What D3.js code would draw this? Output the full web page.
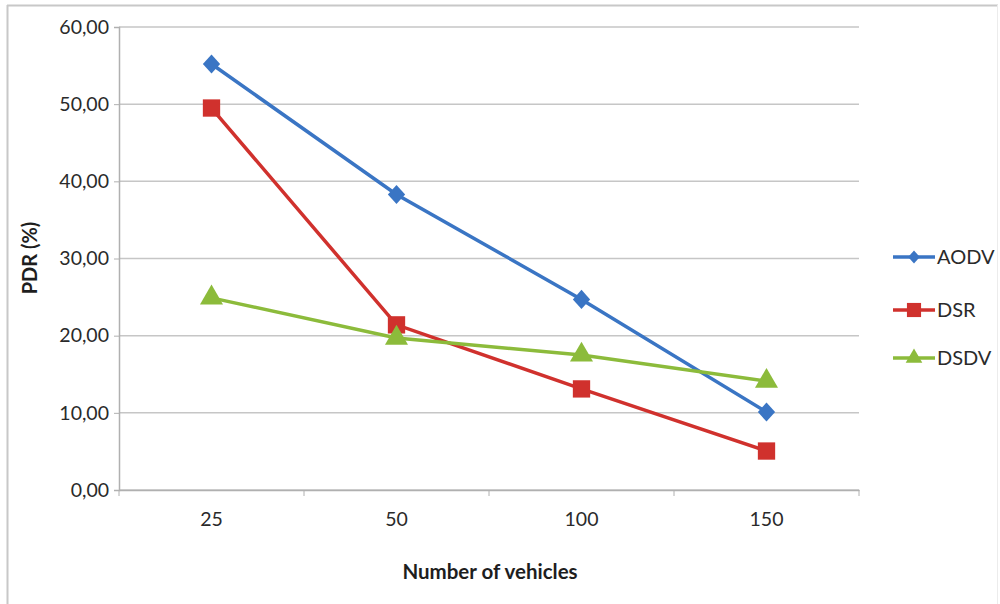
<!DOCTYPE html>
<html><head><meta charset="utf-8">
<script src="https://cdn.jsdelivr.net/npm/d3@7"></script>
<style>body{margin:0;background:#fff;}svg{display:block;}</style>
</head><body>
<svg id="c" width="1000" height="604"></svg>
<script>
const categories = ["25","50","100","150"];
const aodv = [55.2, 38.3, 24.7, 10.1];
const dsr  = [49.5, 21.4, 13.1, 5.05];
const dsdv = [24.9, 19.7, 17.5, 14.1];
const yTicks = [0,10,20,30,40,50,60];
const seriesNames = ["AODV","DSR","DSDV"];
const seriesColors = ["#3a75c4","#d0312d","#8cbb3b"];

const diamond = { draw(ctx, size){ const s=Math.sqrt(size)/2; ctx.moveTo(0,-s*1.05); ctx.lineTo(s*0.95,0); ctx.lineTo(0,s*1.05); ctx.lineTo(-s*0.95,0); ctx.closePath(); } };
const seriesShapes = [diamond, d3.symbolSquare, d3.symbolTriangle];

const svg = d3.select("#c");
const font = "Lato, 'Open Sans', sans-serif";
// frame
svg.append("line").attr("x1",7.5).attr("x2",7.5).attr("y1",5).attr("y2",604).attr("stroke","#c8c8c8").attr("stroke-width",2);
svg.append("line").attr("x1",7).attr("x2",998).attr("y1",5.5).attr("y2",5.5).attr("stroke","#c8c8c8").attr("stroke-width",2);
svg.append("line").attr("x1",997.5).attr("x2",997.5).attr("y1",5).attr("y2",604).attr("stroke","#ececec").attr("stroke-width",1);

const L=119, R=859, T=27, B=490;
const x = d3.scaleBand().domain(categories).range([L,R]);
const y = d3.scaleLinear().domain([0,60]).range([B,T]);

// gridlines
svg.append("g").selectAll("line").data(yTicks).join("line")
  .attr("x1",L).attr("x2",R).attr("y1",d=>y(d)).attr("y2",d=>y(d))
  .attr("stroke","#c6c6c6").attr("stroke-width",1.5);

// y axis
const ya = svg.append("g").attr("transform",`translate(${L},0)`)
  .call(d3.axisLeft(y).tickValues(yTicks).tickSize(5).tickPadding(5)
  .tickFormat(d=>d3.format(".2f")(d).replace(".",",")));
ya.select(".domain").attr("stroke","#b0b0b0").attr("stroke-width",1.5);
ya.selectAll(".tick line").attr("stroke","#b0b0b0");
ya.selectAll("text").attr("font-family",font).attr("font-size",19.5).attr("fill","#2a2a2a");

// x axis
const xa = svg.append("g").attr("transform",`translate(0,${B})`)
  .call(d3.axisBottom(x).tickSize(0).tickPadding(22));
xa.select(".domain").attr("stroke","#b0b0b0").attr("stroke-width",1.5);
xa.selectAll("text").attr("font-family",font).attr("font-size",19.5).attr("fill","#2a2a2a");
// boundary ticks
const bounds = categories.map(c=>x(c)).concat([R]);
svg.append("g").selectAll("line").data(bounds).join("line")
  .attr("x1",d=>d).attr("x2",d=>d).attr("y1",B).attr("y2",B+6)
  .attr("stroke","#b0b0b0").attr("stroke-width",1);

// titles
svg.append("text").attr("x",490).attr("y",579).attr("text-anchor","middle")
  .attr("font-family",font).attr("font-weight","bold").attr("font-size",20.5).attr("fill","#1e1e1e")
  .text("Number of vehicles");
svg.append("text").attr("transform","translate(37,258) rotate(-90)").attr("text-anchor","middle")
  .attr("font-family",font).attr("font-weight","bold").attr("font-size",20).attr("fill","#1e1e1e")
  .text("PDR (%)");

const data = [aodv,dsr,dsdv];
const cx = c => x(c)+x.bandwidth()/2;
const line = d3.line().x((d,i)=>cx(categories[i])).y(d=>y(d));
data.forEach((vals,si)=>{
  svg.append("path").datum(vals).attr("d",line).attr("fill","none")
    .attr("stroke",seriesColors[si]).attr("stroke-width",3.5);
  svg.append("g").selectAll("path").data(vals).join("path")
    .attr("transform",(d,i)=>`translate(${cx(categories[i])},${y(d)})`)
    .attr("d",d3.symbol().type(seriesShapes[si]).size(si===1?300:si===0?330:230))
    .attr("fill",seriesColors[si]);
});

// legend
const legY = [257,310,358];
seriesNames.forEach((n,i)=>{
  const g = svg.append("g");
  g.append("line").attr("x1",893).attr("x2",935).attr("y1",legY[i]).attr("y2",legY[i])
    .attr("stroke",seriesColors[i]).attr("stroke-width",3.5);
  g.append("path").attr("transform",`translate(914,${legY[i]})`)
    .attr("d",d3.symbol().type(seriesShapes[i]).size(i===1?200:i===0?150:120)).attr("fill",seriesColors[i]);
  g.append("text").attr("x",937).attr("y",legY[i]+7).attr("font-family",font).attr("font-size",20)
    .attr("fill","#2a2a2a").text(n);
});
</script>
</body></html>
